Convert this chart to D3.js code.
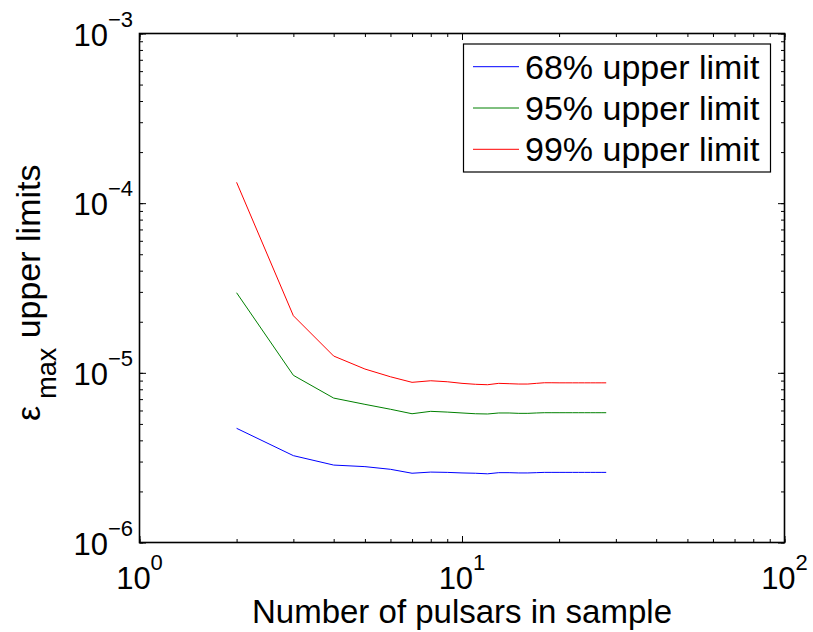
<!DOCTYPE html>
<html>
<head>
<meta charset="utf-8">
<script src="https://cdn.jsdelivr.net/npm/d3@7"></script>
<style>
  body { margin: 0; background: #fff; }
  text { font-family: "Liberation Sans", Arial, Helvetica, sans-serif; fill: #000; }
</style>
</head>
<body>
<div id="chart"></div>
<script>
// number of pulsars in the sample
const nPulsars = [2, 3, 4, 5, 6, 7, 8, 9, 10, 11, 12, 13, 14, 15, 16, 17, 18, 19, 20, 21, 22, 23, 24, 25, 26, 27, 28];

// epsilon_max upper limits
const ul68 = [4.71e-6, 3.25e-6, 2.86e-6, 2.80e-6, 2.70e-6, 2.56e-6, 2.60e-6, 2.59e-6, 2.57e-6, 2.56e-6, 2.54e-6, 2.58e-6, 2.58e-6, 2.57e-6,
  2.57e-6, 2.58e-6, 2.59e-6, 2.59e-6, 2.59e-6, 2.59e-6, 2.59e-6, 2.59e-6, 2.59e-6, 2.59e-6, 2.59e-6, 2.59e-6, 2.59e-6];
const ul95 = [2.965e-5, 9.67e-6, 7.10e-6, 6.52e-6, 6.10e-6, 5.74e-6, 5.93e-6, 5.87e-6, 5.80e-6, 5.74e-6, 5.72e-6, 5.80e-6, 5.80e-6, 5.77e-6,
  5.77e-6, 5.80e-6, 5.82e-6, 5.82e-6, 5.82e-6, 5.82e-6, 5.82e-6, 5.82e-6, 5.82e-6, 5.82e-6, 5.82e-6, 5.82e-6, 5.82e-6];
const ul99 = [1.327e-4, 2.17e-5, 1.256e-5, 1.053e-5, 9.48e-6, 8.79e-6, 8.98e-6, 8.86e-6, 8.67e-6, 8.56e-6, 8.51e-6, 8.67e-6, 8.63e-6, 8.59e-6,
  8.59e-6, 8.67e-6, 8.74e-6, 8.74e-6, 8.73e-6, 8.73e-6, 8.73e-6, 8.73e-6, 8.73e-6, 8.73e-6, 8.73e-6, 8.73e-6, 8.73e-6];

const seriesNames = ['68% upper limit', '95% upper limit', '99% upper limit'];
const seriesColors = ['#0000ff', '#008000', '#ff0000'];

const xMajorTicks = [1, 10, 100];
const xTickExponents = ['0', '1', '2'];
const yMajorTicks = [1e-6, 1e-5, 1e-4, 1e-3];
const yTickExponents = ['\u22126', '\u22125', '\u22124', '\u22123'];

const width = 813, height = 632;
const margin = { top: 33.5, right: 28.5, bottom: 89.5, left: 139.5 };
const iw = width - margin.left - margin.right;
const ih = height - margin.top - margin.bottom;

const svg = d3.select('#chart').append('svg')
  .attr('width', width)
  .attr('height', height);

const g = svg.append('g')
  .attr('transform', `translate(${margin.left},${margin.top})`);

const x = d3.scaleLog().domain([1, 100]).range([0, iw]);
const y = d3.scaleLog().domain([1e-6, 1e-3]).range([ih, 0]);

// ticks point inward on all four sides (major + minor)
function addAxis(axisFn, scale, transform) {
  const minor = axisFn(scale).tickValues(scale.ticks()).tickSize(-3.5).tickSizeOuter(0).tickFormat('');
  const major = axisFn(scale).tickValues(scale === x ? xMajorTicks : yMajorTicks).tickSize(-6.5).tickSizeOuter(0).tickFormat('');
  [minor, major].forEach(a => {
    const ax = g.append('g').attr('transform', transform).call(a);
    ax.select('.domain').remove();
    ax.selectAll('line').attr('stroke', '#000').attr('stroke-width', 1);
  });
}
addAxis(d3.axisBottom, x, `translate(0,${ih})`);
addAxis(d3.axisTop, x, 'translate(0,0)');
addAxis(d3.axisLeft, y, 'translate(0,0)');
addAxis(d3.axisRight, y, `translate(${iw},0)`);

// frame
g.append('rect')
  .attr('width', iw).attr('height', ih)
  .attr('fill', 'none').attr('stroke', '#000').attr('stroke-width', 1.6);

// x tick labels: 10^n
const xl = g.selectAll('.xlab').data(xMajorTicks).enter().append('text')
  .attr('class', 'xlab')
  .attr('x', d => x(d))
  .attr('y', ih + 46)
  .attr('text-anchor', 'middle')
  .style('font-size', '31px');
xl.append('tspan').text('10');
xl.append('tspan').attr('dy', -19).style('font-size', '22px').text((d, i) => xTickExponents[i]);

// y tick labels
const yl = g.selectAll('.ylab').data(yMajorTicks).enter().append('text')
  .attr('class', 'ylab')
  .attr('x', -6.5)
  .attr('y', d => y(d) + 12)
  .attr('text-anchor', 'end')
  .style('font-size', '31px');
yl.append('tspan').text('10');
yl.append('tspan').attr('dy', -19).style('font-size', '22px').text((d, i) => yTickExponents[i]);

// lines
const line = d3.line()
  .x(d => x(d[0]))
  .y(d => y(d[1]));

[ul68, ul95, ul99].forEach((vals, i) => {
  g.append('path')
    .datum(nPulsars.map((n, j) => [n, vals[j]]))
    .attr('d', line)
    .attr('fill', 'none')
    .attr('stroke', seriesColors[i])
    .attr('stroke-width', 1);
});

// axis labels
svg.append('text')
  .attr('x', margin.left + iw / 2)
  .attr('y', 623)
  .attr('text-anchor', 'middle')
  .style('font-size', '33px')
  .text('Number of pulsars in sample');

const yTitle = svg.append('text')
  .attr('transform', 'translate(40,421) rotate(-90)')
  .attr('text-anchor', 'start')
  .style('font-size', '34px');
yTitle.append('tspan').text('\u03b5');
yTitle.append('tspan').attr('dx', 7).attr('dy', 16).style('font-size', '27px').text('max');
yTitle.append('tspan').attr('dy', -16).text(' upper limits');

// legend
const legend = svg.append('g').attr('transform', 'translate(463.5,44)');
legend.append('rect')
  .attr('width', 307).attr('height', 128)
  .attr('fill', '#fff').attr('stroke', '#000').attr('stroke-width', 1.2);
seriesNames.forEach((name, i) => {
  const ry = 22.7 + i * 41.3;
  legend.append('line')
    .attr('x1', 9.5).attr('x2', 55.5)
    .attr('y1', ry).attr('y2', ry)
    .attr('stroke', seriesColors[i]).attr('stroke-width', 1);
  legend.append('text')
    .attr('x', 61.5).attr('y', ry + 12)
    .style('font-size', '34px')
    .text(name);
});
</script>
</body>
</html>
